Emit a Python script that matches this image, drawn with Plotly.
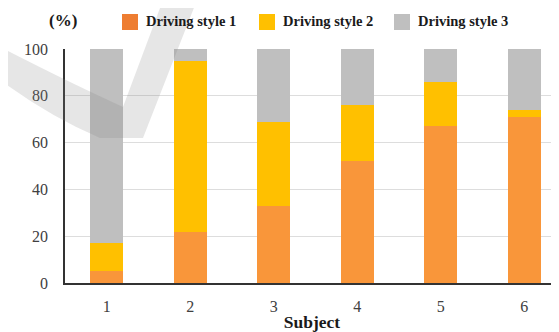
import plotly.graph_objects as go

subjects = ["1", "2", "3", "4", "5", "6"]
style1 = [5, 22, 33, 52, 67, 71]
style2 = [12, 73, 36, 24, 19, 3]
style3 = [83, 5, 31, 24, 14, 26]
series_names = ["Driving style 1", "Driving style 2", "Driving style 3"]
bar_colors = ["#F9963A", "#FFC000", "#BFBFBF"]
legend_colors = ["#EE7D31", "#FFC000", "#BFBFBF"]
y_ticks = [0, 20, 40, 60, 80, 100]

# page body has an 8px margin; design the figure in window pixels
OX, OY = 8, 8
W, H = 559 - OX, 332 - OY
L, R, T, B = 65 - OX, 0, 49 - OY, 332 - 283
PW, PH = W - L - R, H - T - B

def px(x, y):
    # window pixel -> paper coords
    return (x - OX - L) / PW, (H - B - (y - OY)) / PH

fig = go.Figure()
for name, vals, col in zip(series_names, [style1, style2, style3], bar_colors):
    fig.add_trace(go.Bar(x=subjects, y=vals, name=name, marker=dict(color=col, line=dict(width=0)),
                         width=0.4, showlegend=False))

serif = "'Liberation Serif', 'DejaVu Serif', serif"

# legend drawn as squares + text above the plot
legend_sq_x = [122, 259, 394]
annotations = [dict(text="<b>(%)</b>", xref="paper", yref="paper", x=px(63, 0)[0], y=px(0, 21)[1],
                    xanchor="center", yanchor="middle", showarrow=False,
                    font=dict(family=serif, size=17, color="#1a1a1a"))]
for name, col, sx in zip(series_names, legend_colors, legend_sq_x):
    x0, y0 = px(sx, 30)
    x1, y1 = px(sx + 16, 14)
    fig.add_shape(type="rect", xref="paper", yref="paper", x0=x0, y0=y0, x1=x1, y1=y1,
                  fillcolor=col, line=dict(width=0))
    annotations.append(dict(text=f"<b>{name}</b>", xref="paper", yref="paper",
                            x=px(sx + 22, 0)[0], y=px(0, 21.5)[1], xanchor="left", yanchor="middle",
                            showarrow=False,
                            font=dict(family=serif, size=14.5, color="#1a1a1a")))

# watermark swoosh (decoration)
pts = {
    "a": px(0, 47), "c1": px(70, 83), "b": px(123, 107), "c": px(163, 0), "d": px(197, 0),
    "e": px(143, 138), "f": px(100, 138), "c2": px(50, 117), "g": px(0, 80),
}
def p(k):
    return f"{pts[k][0]:.4f},{pts[k][1]:.4f}"
path = (f"M{p('a')} Q{p('c1')} {p('b')} L{p('c')} L{p('d')} L{p('e')} L{p('f')} "
        f"Q{p('c2')} {p('g')} Z")
fig.add_shape(type="path", path=path, xref="paper", yref="paper",
              fillcolor="rgba(128,128,128,0.2)", line=dict(width=0), layer="above")

fig.update_layout(
    width=W, height=H,
    margin=dict(l=L, r=R, t=T, b=B),
    barmode="stack",
    plot_bgcolor="white", paper_bgcolor="white",
    font=dict(family=serif, color="#404040", size=16),
    showlegend=False,
    xaxis=dict(type="category", range=[-0.5, 5.416], showgrid=False,
               showline=True, linecolor="#333333", linewidth=1.5,
               ticks="", ticklabelstandoff=8,
               tickfont=dict(family=serif, size=16, color="#404040"),
               title=dict(text="Subject", font=dict(family=serif, size=17.5, color="#1a1a1a", weight="bold"), standoff=3)),
    yaxis=dict(range=[0, 100], tickvals=y_ticks, showgrid=True, gridcolor="#DDDDDD", gridwidth=1,
               showline=True, linecolor="#333333", linewidth=1.5, zeroline=False,
               ticks="", ticklabelstandoff=12,
               tickfont=dict(family=serif, size=16, color="#404040")),
    annotations=annotations,
)

fig.write_html("out.html")
